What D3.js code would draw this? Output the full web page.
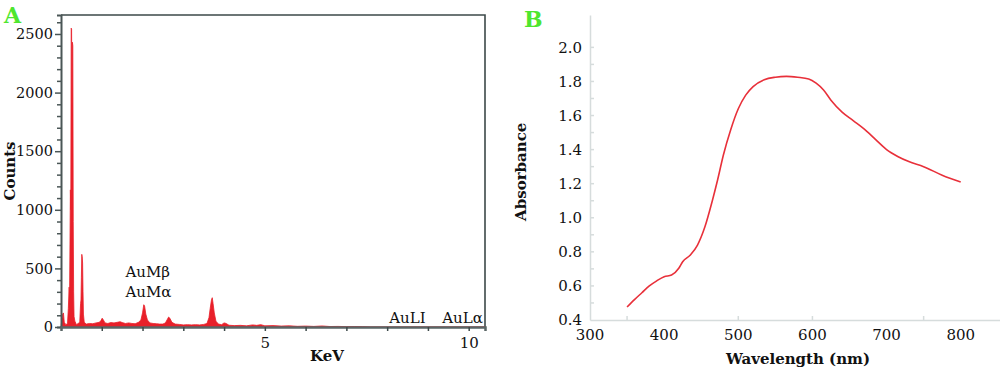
<!DOCTYPE html>
<meta charset="utf-8">
<script src="https://d3js.org/d3.v7.min.js"></script>
<style>
  body { margin: 0; background: #fff; }
  text { font-family: "DejaVu Serif", serif; }
</style>
<div id="my_dataviz"></div>
<script>

// ---- panel A : EDX spectrum (keV, counts) ----
var spectrum = [
  [0.00, 0], [0.02, 60], [0.04, 110], [0.06, 120], [0.08, 40], [0.12, 20], [0.16, 30],
  [0.18, 160], [0.20, 340], [0.21, 250], [0.22, 700], [0.23, 1170], [0.24, 1000],
  [0.25, 2550], [0.26, 2540], [0.27, 1800], [0.28, 2430], [0.29, 2400], [0.30, 900],
  [0.31, 300], [0.32, 90], [0.34, 50], [0.38, 20], [0.42, 30], [0.46, 40],
  [0.48, 200], [0.49, 230], [0.50, 420], [0.51, 620], [0.52, 600], [0.53, 545],
  [0.54, 300], [0.55, 110], [0.57, 40], [0.62, 25], [0.70, 30], [0.78, 28],
  [0.86, 35], [0.94, 40], [0.98, 55], [1.01, 75], [1.04, 60], [1.08, 35],
  [1.15, 30], [1.22, 38], [1.30, 35], [1.38, 40], [1.45, 45], [1.50, 38],
  [1.58, 30], [1.66, 35], [1.74, 30], [1.82, 28], [1.90, 40], [1.96, 60],
  [2.00, 120], [2.03, 190], [2.05, 180], [2.08, 110], [2.12, 60], [2.18, 35],
  [2.26, 30], [2.34, 28], [2.42, 25], [2.50, 25], [2.56, 35], [2.60, 60],
  [2.64, 85], [2.67, 75], [2.72, 40], [2.80, 25], [2.90, 22], [3.00, 18],
  [3.10, 20], [3.20, 18], [3.30, 20], [3.40, 18], [3.50, 22], [3.58, 30],
  [3.63, 80], [3.66, 160], [3.69, 230], [3.71, 250], [3.73, 200], [3.76, 120],
  [3.80, 50], [3.86, 25], [3.94, 20], [4.00, 35], [4.05, 30], [4.12, 15],
  [4.25, 12], [4.40, 14], [4.55, 10], [4.70, 18], [4.80, 14], [4.90, 20],
  [5.00, 10], [5.20, 12], [5.40, 8], [5.60, 10], [5.80, 6], [6.00, 8],
  [6.20, 5], [6.40, 9], [6.60, 4], [6.80, 5], [7.00, 3], [7.20, 4],
  [7.40, 3], [7.60, 0], [10.4, 0]
];
var keVTicks = [1, 2, 3, 4, 5, 6, 7, 8, 9, 10];
var keVLabels = [5, 10];
var countTicks = [0, 500, 1000, 1500, 2000, 2500];
var peakLabels = [
  {text: "AuMβ", kev: 1.58, counts: 430},
  {text: "AuMα", kev: 1.58, counts: 255},
  {text: "AuLI", kev: 8.05, counts: 30},
  {text: "AuLα", kev: 9.35, counts: 30}
];

// ---- panel B : UV-vis absorbance ----
var wavelength = [350, 360, 370, 380, 390, 400, 410, 420, 425, 435, 445, 455, 465, 472,
  480, 490, 500, 510, 520, 535, 550, 565, 580, 595, 605, 615, 625, 640, 655, 670,
  685, 700, 715, 730, 750, 775, 800];
var absorbance = [0.476, 0.52, 0.56, 0.60, 0.63, 0.654, 0.664, 0.705, 0.742, 0.78, 0.84,
  0.947, 1.10, 1.22, 1.37, 1.52, 1.64, 1.72, 1.77, 1.81, 1.825, 1.83, 1.825, 1.815,
  1.79, 1.75, 1.69, 1.62, 1.57, 1.52, 1.46, 1.40, 1.36, 1.33, 1.30, 1.25, 1.21];
var wlTickLabels = [300, 400, 500, 600, 700, 800];
var wlTickMarks = [350, 500, 600, 750];
var absTicks = [0.4, 0.6, 0.8, 1.0, 1.2, 1.4, 1.6, 1.8, 2.0];
var absMinor = [0.5, 0.7, 0.9, 1.1, 1.3, 1.5, 1.7, 1.9];

var W = 1000, H = 374;
var svg = d3.select("#my_dataviz").append("svg")
  .attr("width", W).attr("height", H);

var red = "#e8202a";
var green = "#4ee62e";

// ================= panel A =================
var ax = d3.scaleLinear().domain([0, 10.4]).range([61, 485]);
var ay = d3.scaleLinear().domain([0, 2662]).range([327, 15]);

var gA = svg.append("g");

// frame top + right
gA.append("path")
  .attr("d", "M" + ax(0) + "," + ay(2662) + "H" + ax(10.4) + "V" + ay(0))
  .attr("fill", "none").attr("stroke", "#3d4949").attr("stroke-width", 1.6);

// spectrum
gA.append("path")
  .datum(spectrum)
  .attr("fill", red)
  .attr("stroke", red)
  .attr("stroke-width", 0.8)
  .attr("d", d3.area()
    .x(function(d) { return ax(d[0]); })
    .y0(ay(0))
    .y1(function(d) { return ay(d[1]); }));

// y axis
var yAxA = gA.append("g")
  .attr("transform", "translate(" + ax(0) + ",0)")
  .call(d3.axisLeft(ay).tickValues(d3.range(0, 2700, 100)).tickSize(4)
    .tickFormat(function(d) { return countTicks.indexOf(d) >= 0 ? d : ""; }));
yAxA.select(".domain").attr("stroke", "#4a5656").attr("stroke-width", 2);
yAxA.selectAll(".tick line").attr("stroke", "#4a5656").attr("stroke-width", 1.5)
  .attr("x2", function(d) { return countTicks.indexOf(d) >= 0 ? -6 : -4; });
yAxA.selectAll(".tick text").attr("font-size", 14.5).attr("fill", "#111")
  .attr("font-family", "DejaVu Serif").attr("x", -8);

// x axis
var xAxA = gA.append("g")
  .attr("transform", "translate(0," + ay(0) + ")")
  .call(d3.axisBottom(ax).tickValues(keVTicks).tickSize(4)
    .tickFormat(function(d) { return keVLabels.indexOf(d) >= 0 ? d : ""; }));
xAxA.select(".domain").attr("stroke", "#5a6666").attr("stroke-width", 2.5);
xAxA.selectAll(".tick line").attr("stroke", "#3d4949").attr("stroke-width", 1.5);
xAxA.selectAll(".tick text").attr("font-size", 15).attr("fill", "#111")
  .attr("font-family", "DejaVu Serif").attr("y", 10);

// peak labels
gA.selectAll(".peak")
  .data(peakLabels)
  .enter().append("text")
  .attr("x", function(d) { return ax(d.kev); })
  .attr("y", function(d) { return ay(d.counts); })
  .attr("font-size", 15).attr("fill", "#111")
  .text(function(d) { return d.text; });

gA.append("text")
  .attr("transform", "translate(15," + ((ay(0) + ay(2662)) / 2) + ") rotate(-90)")
  .attr("text-anchor", "middle").attr("font-weight", "bold").attr("font-size", 15)
  .attr("fill", "#111").text("Counts");

gA.append("text")
  .attr("x", 327).attr("y", 361)
  .attr("text-anchor", "middle").attr("font-weight", "bold").attr("font-size", 15)
  .attr("fill", "#111").text("KeV");

gA.append("text")
  .attr("x", 4).attr("y", 23)
  .attr("font-weight", "bold").attr("font-size", 22)
  .attr("fill", green).text("A");

// ================= panel B =================
var bx = d3.scaleLinear().domain([300, 853]).range([590, 1000]);
var by = d3.scaleLinear().domain([0.4, 2.19]).range([320, 15]);
var axisGray = "#d6dcdc";

var gB = svg.append("g");

var yAxB = gB.append("g")
  .attr("transform", "translate(" + bx(300) + ",0)")
  .call(d3.axisLeft(by).tickValues(absTicks).tickSize(0).tickPadding(8)
    .tickFormat(d3.format(".1f")));
yAxB.select(".domain").attr("stroke", axisGray).attr("stroke-width", 1.5);
yAxB.selectAll(".tick text").attr("font-size", 15).attr("fill", "#111")
  .attr("font-family", "DejaVu Serif");

// small tick dashes on the absorbance axis
gB.selectAll(".abstick")
  .data(absTicks.slice(1).concat(absMinor))
  .enter().append("line")
  .attr("x1", bx(300) + 1).attr("x2", bx(300) + 4)
  .attr("y1", function(d) { return by(d); })
  .attr("y2", function(d) { return by(d); })
  .attr("stroke", axisGray).attr("stroke-width", 1.5);

var xAxB = gB.append("g")
  .attr("transform", "translate(0," + by(0.4) + ")")
  .call(d3.axisBottom(bx).tickValues(wlTickMarks).tickSize(0).tickFormat(""));
xAxB.select(".domain").attr("stroke", axisGray).attr("stroke-width", 1.5);

gB.selectAll(".wltick")
  .data(wlTickMarks)
  .enter().append("line")
  .attr("x1", function(d) { return bx(d); })
  .attr("x2", function(d) { return bx(d); })
  .attr("y1", by(0.4) - 4).attr("y2", by(0.4))
  .attr("stroke", axisGray).attr("stroke-width", 1.5);

gB.selectAll(".wllabel")
  .data(wlTickLabels)
  .enter().append("text")
  .attr("x", function(d) { return bx(d); })
  .attr("y", 340)
  .attr("text-anchor", "middle")
  .attr("font-size", 15).attr("fill", "#111")
  .text(function(d) { return d; });

var spectrumB = wavelength.map(function(w, i) { return [w, absorbance[i]]; });
gB.append("path")
  .datum(spectrumB)
  .attr("fill", "none")
  .attr("stroke", "#e8303a")
  .attr("stroke-width", 1.6)
  .attr("d", d3.line()
    .curve(d3.curveMonotoneX)
    .x(function(d) { return bx(d[0]); })
    .y(function(d) { return by(d[1]); }));

gB.append("text")
  .attr("transform", "translate(526," + by(1.27) + ") rotate(-90)")
  .attr("text-anchor", "middle").attr("font-weight", "bold").attr("font-size", 15)
  .attr("fill", "#111").text("Absorbance");

gB.append("text")
  .attr("x", 798).attr("y", 364)
  .attr("text-anchor", "middle").attr("font-weight", "bold").attr("font-size", 15)
  .attr("fill", "#111").text("Wavelength (nm)");

gB.append("text")
  .attr("x", 524).attr("y", 27)
  .attr("font-weight", "bold").attr("font-size", 22)
  .attr("fill", green).text("B");

</script>
